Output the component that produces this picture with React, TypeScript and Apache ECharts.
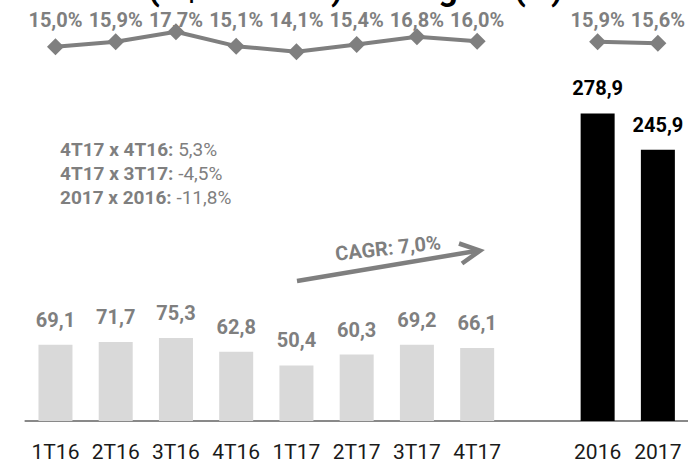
import React, { useEffect, useRef } from "react";
import * as echarts from "echarts";

const categories = ["1T16", "2T16", "3T16", "4T16", "1T17", "2T17", "3T17", "4T17", "", "2016", "2017"];
const quarterlyEbitda = [69.1, 71.7, 75.3, 62.8, 50.4, 60.3, 69.2, 66.1];
const annualEbitda = [278.9, 245.9];
const quarterlyMargin = [15.0, 15.9, 17.7, 15.1, 14.1, 15.4, 16.8, 16.0];
const annualMargin = [15.9, 15.6];
const notes = [
  ["4T17 x 4T16:", "5,3%"],
  ["4T17 x 3T17:", "-4,5%"],
  ["2017 x 2016:", "-11,8%"],
];
const cagrLabel = "CAGR: 7,0%";
const titleText = "EBITDA (R$ milhões) e Margem (%)";

const FONT = "Roboto, 'Noto Sans', sans-serif";
const GRAY = "#7f7f7f";
const fmt = (v: number) => v.toFixed(1).replace(".", ",");

export default function App() {
  const ref = useRef<HTMLDivElement>(null);
  useEffect(() => {
    if (!ref.current) return;
    const chart = echarts.init(ref.current, undefined, { renderer: "svg" });

    const barData: any[] = [
      ...quarterlyEbitda.map((v) => ({
        value: v,
        itemStyle: { color: "#d9d9d9" },
        label: { color: GRAY },
      })),
      null,
      ...annualEbitda.map((v) => ({
        value: v,
        itemStyle: { color: "#000000" },
        label: { color: "#000000" },
      })),
    ];
    const lineData: any[] = [...quarterlyMargin, null, ...annualMargin];
    const marginLabels: string[] = [...quarterlyMargin.map((v) => fmt(v) + "%"), "", ...annualMargin.map((v) => fmt(v) + "%")];

    const gridLeft = 25.35;
    const gridRight = -5;

    chart.setOption({
      animation: false,
      textStyle: { fontFamily: FONT },
      grid: [
        { left: gridLeft, right: gridRight, top: 90.2, bottom: 40.3 },
        { left: gridLeft, right: gridRight, top: 18.9, height: 55.6 },
      ],
      xAxis: [
        {
          type: "category",
          gridIndex: 0,
          data: categories,
          axisLine: { lineStyle: { color: "#898989", width: 2 } },
          axisTick: { show: false },
          axisLabel: { interval: 0, color: "#1a1a1a", fontSize: 21, margin: 20, fontFamily: FONT },
        },
        {
          type: "category",
          gridIndex: 1,
          position: "top",
          offset: -13,
          data: categories,
          axisLine: { show: false },
          axisTick: { show: false },
          axisLabel: {
            interval: 0,
            margin: 2,
            color: GRAY,
            fontSize: 20,
            fontWeight: "bold",
            fontFamily: FONT,
            formatter: (_v: string, i: number) => marginLabels[i],
          },
        },
      ],
      yAxis: [
        { type: "value", gridIndex: 0, min: 0, max: 300, show: false, splitLine: { show: false } },
        { type: "value", gridIndex: 1, min: 10, max: 20, show: false, splitLine: { show: false } },
      ],
      series: [
        {
          type: "bar",
          xAxisIndex: 0,
          yAxisIndex: 0,
          data: barData,
          barWidth: 34,
          label: {
            show: true,
            position: "top",
            distance: 15,
            fontSize: 20,
            fontWeight: "bold",
            fontFamily: FONT,
            formatter: (p: any) => fmt(p.value),
          },
        },
        {
          type: "line",
          xAxisIndex: 1,
          yAxisIndex: 1,
          data: lineData,
          clip: false,
          connectNulls: false,
          symbol: "diamond",
          symbolSize: 17,
          lineStyle: { color: GRAY, width: 4 },
          itemStyle: { color: GRAY },
        },
      ],
      graphic: [
        {
          type: "text",
          x: 563,
          y: -12,
          style: {
            text: titleText,
            fill: "#000",
            fontFamily: FONT,
            fontSize: 34,
            fontWeight: "bold",
            align: "right",
            verticalAlign: "middle",
          },
        },
        ...notes.map((n, i) => ({
          type: "text",
          x: 60,
          y: 149 + i * 24,
          style: {
            text: `{b|${n[0]}} {n|${n[1]}}`,
            fontFamily: FONT,
            fontSize: 19,
            fill: GRAY,
            verticalAlign: "middle",
            rich: {
              b: { fontFamily: FONT, fontSize: 19, fontWeight: "bold", fill: GRAY },
              n: { fontFamily: FONT, fontSize: 19, fontWeight: "normal", fill: GRAY },
            },
          },
        })),
        {
          type: "polyline",
          shape: { points: [[297, 281], [479, 250.5]] },
          style: { stroke: GRAY, lineWidth: 4.5, fill: null },
        },
        {
          type: "polyline",
          shape: { points: [[459, 243.5], [480, 250.7], [462, 263.5]] },
          style: { stroke: GRAY, lineWidth: 4.5, fill: null, lineJoin: "miter" },
        },
        {
          type: "text",
          x: 388,
          y: 248,
          rotation: 0.11,
          style: {
            text: cagrLabel,
            fill: GRAY,
            fontFamily: FONT,
            fontSize: 20,
            fontWeight: "bold",
            align: "center",
            verticalAlign: "middle",
          },
        },
      ],
    });
    return () => chart.dispose();
  }, []);
  return <div ref={ref} style={{ width: 688, height: 462, position: "absolute", left: 0, top: 0 }} />;
}
